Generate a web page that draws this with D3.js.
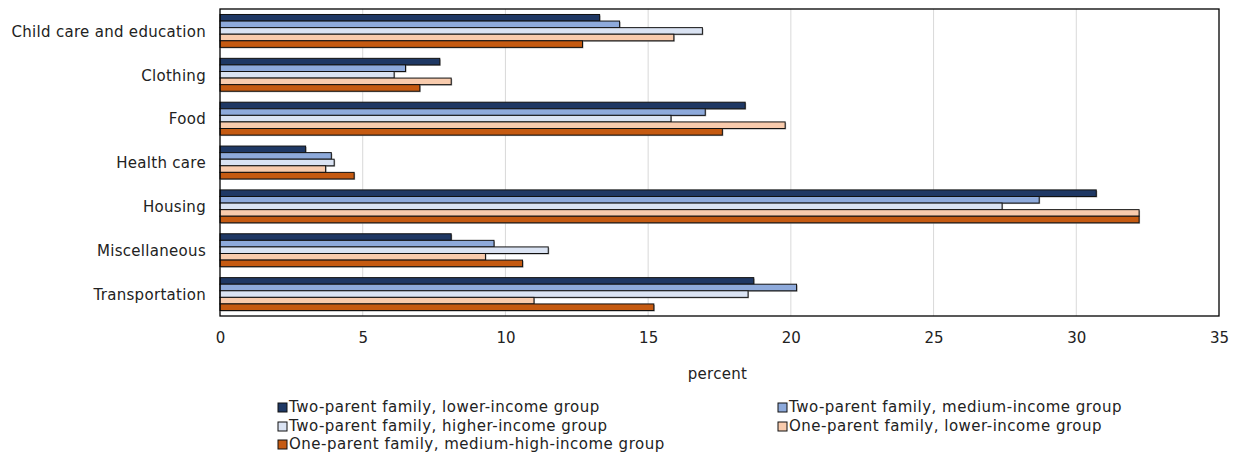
<!DOCTYPE html>
<html>
<head>
<meta charset="utf-8">
<script src="https://cdn.jsdelivr.net/npm/d3@7"></script>
<style>
  html, body { margin: 0; padding: 0; background: #fff; }
  svg text { font-family: "DejaVu Sans", Verdana, sans-serif; fill: #222; }
</style>
</head>
<body>
<svg id="chart" width="1239" height="457"></svg>
<script>
// Spending categories (y axis)
const categories = [
  "Child care and education", "Clothing", "Food", "Health care",
  "Housing", "Miscellaneous", "Transportation"
];

// Family types (series)
const seriesNames = [
  "Two-parent family, lower-income group",
  "Two-parent family, medium-income group",
  "Two-parent family, higher-income group",
  "One-parent family, lower-income group",
  "One-parent family, medium-high-income group"
];

// Share of spending, percent — one array per series, in category order
const twoParentLower   = [13.3, 7.7, 18.4, 3.0, 30.7, 8.1, 18.7];
const twoParentMedium  = [14.0, 6.5, 17.0, 3.9, 28.7, 9.6, 20.2];
const twoParentHigher  = [16.9, 6.1, 15.8, 4.0, 27.4, 11.5, 18.5];
const oneParentLower   = [15.9, 8.1, 19.8, 3.7, 32.2, 9.3, 11.0];
const oneParentMedHigh = [12.7, 7.0, 17.6, 4.7, 32.2, 10.6, 15.2];

const xTicks = [0, 5, 10, 15, 20, 25, 30, 35];
const xTitle = "percent";

const colors = ["#1f3864", "#8eaadb", "#dae3f3", "#f8cbad", "#c55a11"];

const seriesValues = [twoParentLower, twoParentMedium, twoParentHigher, oneParentLower, oneParentMedHigh];

const FONT = '"DejaVu Sans", Verdana, sans-serif';
const svg = d3.select("#chart");
const plot = { left: 220, right: 1219, top: 9, bottom: 316 };

const x = d3.scaleLinear().domain([0, 35]).range([plot.left, plot.right]);
const y = d3.scaleBand().domain(categories).range([plot.top, plot.bottom]).paddingInner(0.25).paddingOuter(0.125);
const ySub = d3.scaleBand().domain(d3.range(seriesNames.length)).range([0, y.bandwidth()]);

// vertical gridlines
svg.append("g").selectAll("line").data(xTicks.filter(t => t > 0 && t < 35)).join("line")
  .attr("x1", d => x(d)).attr("x2", d => x(d))
  .attr("y1", plot.top).attr("y2", plot.bottom)
  .attr("stroke", "#d9d9d9").attr("stroke-width", 1);

// bars
const rows = [];
categories.forEach((c, ci) => {
  seriesValues.forEach((vals, si) => rows.push({ c, si, v: vals[ci] }));
});

const gBars = svg.append("g");
// soft shadow under each bar
gBars.selectAll("rect.shadow").data(rows).join("rect")
  .attr("class", "shadow")
  .attr("x", x(0) + 1)
  .attr("y", d => y(d.c) + ySub(d.si) + 1)
  .attr("width", d => x(d.v) - x(0))
  .attr("height", ySub.bandwidth())
  .attr("fill", "#7f7f7f").attr("opacity", 0.7);
gBars.selectAll("rect.bar").data(rows).join("rect")
  .attr("class", "bar")
  .attr("x", x(0))
  .attr("y", d => y(d.c) + ySub(d.si))
  .attr("width", d => x(d.v) - x(0))
  .attr("height", ySub.bandwidth())
  .attr("fill", d => colors[d.si])
  .attr("stroke", "#111").attr("stroke-width", 1);

// plot frame
svg.append("rect")
  .attr("x", plot.left).attr("y", plot.top)
  .attr("width", plot.right - plot.left).attr("height", plot.bottom - plot.top)
  .attr("fill", "none").attr("stroke", "#000").attr("stroke-width", 1.3);

// x axis
const xAxis = svg.append("g").attr("transform", `translate(0,${plot.bottom})`)
  .call(d3.axisBottom(x).tickValues(xTicks).tickSize(0).tickPadding(16));
xAxis.select(".domain").remove();
xAxis.selectAll("text").attr("font-size", 15).style("font-family", FONT).attr("fill", "#222");

// y axis
const yAxis = svg.append("g").attr("transform", `translate(${plot.left},1)`)
  .call(d3.axisLeft(y).tickSize(0).tickPadding(14));
yAxis.select(".domain").remove();
yAxis.selectAll("text").attr("font-size", 15).style("font-family", FONT)
  .style("letter-spacing", "0.3px").attr("fill", "#222");

// x axis title
svg.append("text")
  .attr("x", (plot.left + plot.right) / 2 - 2).attr("y", 379)
  .attr("text-anchor", "middle").attr("font-size", 15)
  .style("letter-spacing", "0.3px")
  .text(xTitle);

// legend
const legendPos = [[281, 407], [781, 407], [281, 426], [781, 426], [281, 444]];
const lg = svg.append("g").selectAll("g").data(seriesNames).join("g")
  .attr("transform", (d, i) => `translate(${legendPos[i][0]},${legendPos[i][1]})`);
lg.append("rect").attr("x", -3).attr("y", -4).attr("width", 9).attr("height", 9)
  .attr("fill", (d, i) => colors[i]).attr("stroke", "#111").attr("stroke-width", 1);
lg.append("text").attr("x", 8).attr("y", 0).attr("dy", "0.36em")
  .attr("font-size", 15).style("letter-spacing", "0.5px").text(d => d);
</script>
</body>
</html>
